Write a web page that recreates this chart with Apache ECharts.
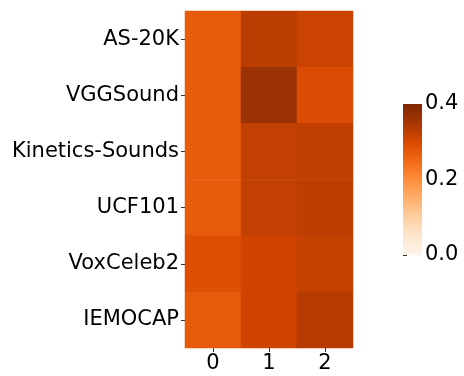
<!DOCTYPE html>
<html><head><meta charset="utf-8">
<script src="https://cdn.jsdelivr.net/npm/echarts@6/dist/echarts.min.js"></script>
<style>html,body{margin:0;padding:0;background:#fff}#c{width:464px;height:376px}</style>
</head><body><div id="c"></div>
<script>
const rows = ['AS-20K','VGGSound','Kinetics-Sounds','UCF101','VoxCeleb2','IEMOCAP'];
const cols = ['0','1','2'];
const vAS20K = [0.27, 0.33, 0.315];
const vVGGSound = [0.27, 0.365, 0.295];
const vKinetics = [0.27, 0.323, 0.325];
const vUCF101 = [0.27, 0.323, 0.327];
const vVoxCeleb2 = [0.29, 0.31, 0.32];
const vIEMOCAP = [0.272, 0.31, 0.335];
const cbTicks = [0.0, 0.2, 0.4];
const oranges = ['#fff5eb','#fee6ce','#fdd0a2','#fdae6b','#fd8d3c','#f16913','#d94801','#a63603','#7f2704'];

const matrix = [vAS20K, vVGGSound, vKinetics, vUCF101, vVoxCeleb2, vIEMOCAP];
const data = [];
matrix.forEach((r, i) => r.forEach((v, j) => data.push([j, i, v])));

const font = 'DejaVu Sans';
const fs = 21;
const chart = echarts.init(document.getElementById('c'));
chart.setOption({
  animation: false,
  textStyle: {fontFamily: font},
  grid: [
    {left: 185, top: 11, width: 168, height: 337},
    {left: 403, top: 104, width: 19, height: 151}
  ],
  xAxis: [
    {type: 'category', data: cols, gridIndex: 0, position: 'bottom',
     axisLine: {show: false}, splitLine: {show: false},
     axisTick: {show: true, alignWithLabel: true, length: 4, lineStyle: {color: '#333', width: 1}},
     axisLabel: {fontSize: fs, color: '#000', fontFamily: font, margin: 5}},
    {type: 'value', gridIndex: 1, show: false, min: 0, max: 1}
  ],
  yAxis: [
    {type: 'category', data: rows, gridIndex: 0, inverse: true,
     axisLine: {show: false}, splitLine: {show: false},
     axisTick: {show: true, alignWithLabel: true, length: 4, lineStyle: {color: '#333', width: 1}},
     axisLabel: {fontSize: fs, color: '#000', fontFamily: font, margin: 6}},
    {type: 'value', gridIndex: 1, position: 'right', min: 0, max: 0.4, interval: 0.2,
     axisLine: {show: false}, splitLine: {show: false},
     axisTick: {show: true, length: 4, lineStyle: {color: '#333', width: 1}},
     axisLabel: {fontSize: fs, color: '#000', fontFamily: font, margin: 3,
       formatter: v => v.toFixed(1)}}
  ],
  visualMap: {show: false, min: 0, max: 0.4, seriesIndex: 0, inRange: {color: oranges}},
  series: [
    {type: 'heatmap', data: data, xAxisIndex: 0, yAxisIndex: 0, itemStyle: {borderWidth: 0}}
  ],
  graphic: [{
    type: 'rect', left: 403, top: 104, z: 10,
    shape: {width: 19, height: 151},
    style: {fill: new echarts.graphic.LinearGradient(0, 1, 0, 0,
      oranges.map((c, i) => ({offset: i / (oranges.length - 1), color: c})))}
  }]
});
</script></body></html>
